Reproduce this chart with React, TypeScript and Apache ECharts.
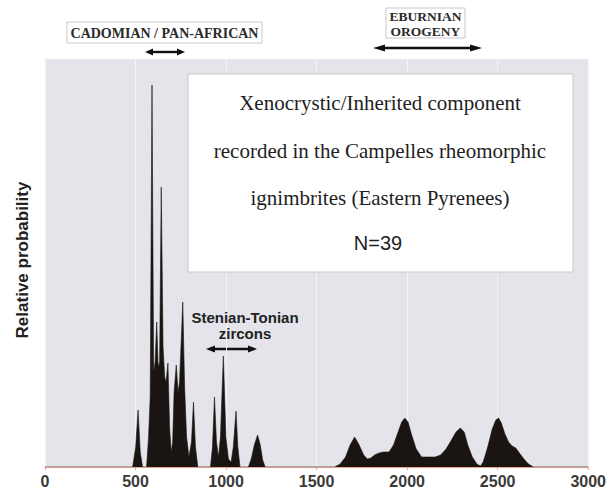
import React, { useEffect, useRef } from "react";
import * as echarts from "echarts";

// Ages (Ma) and relative probability (arbitrary units)
const ages = [
  0, 484, 501, 514, 526, 539, 561, 572, 581, 591, 600, 608, 617, 625, 633, 642, 652, 661, 669, 679, 688, 697,
  705, 713, 725, 735, 743, 761, 771, 782, 795, 809, 820, 831, 844,
  914, 925, 936, 947, 958, 969, 985, 999, 1013, 1028, 1040, 1055, 1065, 1077,
  1123, 1139, 1156, 1174, 1189, 1202, 1216,
  1600, 1630, 1660, 1685, 1710, 1735, 1760, 1780, 1800, 1820, 1845, 1870, 1900, 1925, 1950, 1970, 1987,
  2005, 2025, 2050, 2080, 2120, 2155, 2185, 2215, 2245, 2270, 2294, 2315, 2335, 2360, 2385, 2405, 2420,
  2445, 2470, 2490, 2505, 2520, 2540, 2560, 2580, 2600, 2620, 2645, 2670, 2697, 3000,
];
const probability = [
  0, 0, 20, 57, 15, 0, 0, 30, 70, 382, 95, 105, 145, 100, 105, 280, 120, 90, 85, 104, 40, 15,
  25, 75, 102, 75, 85, 165, 80, 30, 10, 25, 65, 20, 0,
  0, 20, 70, 25, 10, 30, 111, 30, 8, 5, 20, 56, 20, 0,
  0, 8, 22, 32, 22, 7, 0,
  0, 3, 10, 22, 30, 22, 12, 8, 9, 12, 14, 15, 15, 22, 35, 45, 49,
  45, 32, 18, 10, 10, 10, 12, 18, 27, 35, 39, 35, 22, 10, 3, 1, 5,
  20, 38, 47, 49, 44, 33, 25, 21, 19, 14, 8, 3, 0, 0,
];
const xTicks = [0, 500, 1000, 1500, 2000, 2500, 3000];

const boxLines = [
  "Xenocrystic/Inherited component",
  "recorded in the Campelles rheomorphic",
  "ignimbrites (Eastern Pyrenees)",
];

function doubleArrow(x1: number, x2: number, y: number, head = 9, half = 3.5, w = 2.2) {
  return {
    type: "group",
    children: [
      { type: "line", shape: { x1: x1 + head - 1, y1: y, x2: x2 - head + 1, y2: y }, style: { stroke: "#111", lineWidth: w } },
      { type: "polygon", shape: { points: [[x1, y], [x1 + head, y - half], [x1 + head, y + half]] }, style: { fill: "#111" } },
      { type: "polygon", shape: { points: [[x2, y], [x2 - head, y - half], [x2 - head, y + half]] }, style: { fill: "#111" } },
    ],
  };
}

export default function App() {
  const ref = useRef<HTMLDivElement>(null);
  useEffect(() => {
    if (!ref.current) return;
    const chart = echarts.init(ref.current, undefined, { renderer: "svg" });
    const serif = "'Liberation Serif', 'Times New Roman', serif";
    const sans = "'Liberation Sans', Arial, sans-serif";
    chart.setOption({
      animation: false,
      backgroundColor: "#ffffff",
      grid: {
        left: 45, right: 19, top: 59, bottom: 24,
        show: true, backgroundColor: "#e4e4ea", borderWidth: 0,
      },
      xAxis: {
        type: "value", min: 0, max: 3000, interval: 500,
        axisLine: { show: true, lineStyle: { color: "#e8a58c", width: 1 } },
        axisTick: { show: true, length: 3, lineStyle: { color: "#e8a58c" } },
        axisLabel: {
          color: "#3a3a3a", fontSize: 16, fontWeight: "bold", fontFamily: sans, margin: 6,
          formatter: (v: number) => (xTicks.includes(v) ? String(v) : ""),
        },
        splitLine: { show: true, lineStyle: { color: "#f3f3f6", width: 1 } },
      },
      yAxis: {
        type: "value", min: 0, max: 408, show: false, splitLine: { show: false },
      },
      series: [
        {
          type: "line",
          data: ages.map((a, i) => [a, probability[i]]),
          symbol: "none",
          lineStyle: { color: "#1a1512", width: 0.6 },
          areaStyle: { color: "#1a1512", opacity: 1 },
          z: 3,
        },
      ],
      graphic: [
        {
          type: "rect", z: 10,
          shape: { x: 188, y: 74, width: 385, height: 198 },
          style: { fill: "#ffffff", stroke: "#c8c8cc", lineWidth: 1 },
        },
        ...boxLines.map((t, i) => ({
          type: "text", z: 11,
          style: {
            text: t, x: 380, y: 103 + i * 47.5, align: "center", verticalAlign: "middle",
            font: `21px ${serif}`, fill: "#1e1e1e",
          },
        })),
        {
          type: "text", z: 11,
          style: { text: "N=39", x: 378, y: 243, align: "center", verticalAlign: "middle", font: `20px ${sans}`, fill: "#1e1e1e" },
        },
        {
          type: "rect", z: 10,
          shape: { x: 67, y: 22, width: 195, height: 21 },
          style: { fill: "#ffffff", stroke: "#c8c8cc", lineWidth: 1 },
        },
        {
          type: "text", z: 11,
          style: { text: "CADOMIAN / PAN-AFRICAN", x: 164.5, y: 33, align: "center", verticalAlign: "middle", font: `bold 14px ${serif}`, fill: "#2a2a2a" },
        },
        { ...doubleArrow(145, 185, 52, 8, 3.5, 2.4), z: 11 },
        {
          type: "rect", z: 10,
          shape: { x: 386, y: 8, width: 79, height: 30 },
          style: { fill: "#ffffff", stroke: "#c8c8cc", lineWidth: 1 },
        },
        {
          type: "text", z: 11,
          style: { text: "EBURNIAN\nOROGENY", x: 425.5, y: 23.5, align: "center", verticalAlign: "middle", lineHeight: 15, font: `bold 13.5px ${serif}`, fill: "#2a2a2a" },
        },
        { ...doubleArrow(373, 482, 48, 12, 3.5, 2.4), z: 11 },
        {
          type: "text", z: 11,
          style: { text: "Stenian-Tonian\nzircons", x: 245, y: 325, align: "center", verticalAlign: "middle", lineHeight: 16, font: `bold 15px ${sans}`, fill: "#222" },
        },
        { ...doubleArrow(206, 257, 349, 9, 3.5, 2.4), z: 11 },
        {
          type: "text", z: 11,
          rotation: Math.PI / 2, x: 22, y: 260,
          style: { text: "Relative probability", x: 0, y: 0, align: "center", verticalAlign: "middle", font: `bold 17px ${sans}`, fill: "#222" },
        },
      ],
    });
    return () => chart.dispose();
  }, []);
  return <div ref={ref} style={{ position: "fixed", left: 0, top: 0, width: 609, height: 491 }} />;
}
